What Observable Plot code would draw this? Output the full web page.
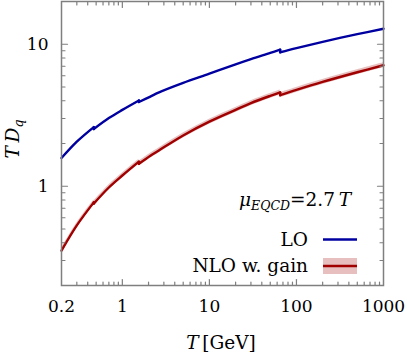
<!DOCTYPE html>
<html><head><meta charset="utf-8">
<script src="https://cdn.jsdelivr.net/npm/d3@7"></script>
<script src="https://cdn.jsdelivr.net/npm/@observablehq/plot@0.6"></script>
<style>body{margin:0;background:#fff}</style>
</head><body><div id="chart"></div>
<script>
// ---- data (T in GeV; repeated T = flavour threshold jump)
const T_GeV  = [0.2, 0.3, 0.47, 0.47, 0.7, 1, 1.55, 1.55, 2.1, 2.6, 5, 10, 20, 30, 50, 65, 65, 100, 200, 500, 1000];
const LO     = [1.58, 2.06, 2.61, 2.53, 3.02, 3.45, 4.02, 3.92, 4.28, 4.56, 5.34, 6.2, 7.22, 7.86, 8.68, 9.15, 8.78, 9.40, 10.40, 11.78, 12.85];
const NLO    = [0.352, 0.53, 0.77, 0.755, 0.98, 1.19, 1.49, 1.44, 1.64, 1.78, 2.28, 2.85, 3.45, 3.85, 4.33, 4.58, 4.38, 4.77, 5.43, 6.35, 7.11];
const NLO_lo = [0.338, 0.509, 0.739, 0.725, 0.941, 1.142, 1.43, 1.382, 1.574, 1.709, 2.189, 2.736, 3.312, 3.696, 4.157, 4.397, 4.205, 4.579, 5.213, 6.096, 6.826];
const NLO_hi = [0.366, 0.551, 0.801, 0.785, 1.019, 1.238, 1.55, 1.498, 1.706, 1.851, 2.371, 2.964, 3.588, 4.004, 4.503, 4.763, 4.555, 4.961, 5.647, 6.604, 7.394];

const xTickLabels = [0.2, 1, 10, 100, 1000];
const yTickLabels = [1, 10];
const xMajor = [1, 10, 100];
const xMinor = [0.3,0.4,0.5,0.6,0.7,0.8,0.9, 2,3,4,5,6,7,8,9, 20,30,40,50,60,70,80,90, 200,300,400,500,600,700,800,900];
const yMajor = [1, 10];
const yMinor = [0.3,0.4,0.5,0.6,0.7,0.8,0.9, 2,3,4,5,6,7,8,9];
const xDomain = [0.2, 1000];
const yDomain = [0.2, 20];

const BLUE = "#0000a0", RED = "#a00000", GRAY = "#7f7f7f";
const FONT = "'DejaVu Serif', 'Liberation Serif', serif";
const FS_TICK = 17, FS = 18.5, FS_SUB = 12.5;

// build table with segment ids (a new segment starts at each threshold)
const rows = [];
let seg = 0;
T_GeV.forEach((t, i) => {
  if (i > 0 && t === T_GeV[i - 1]) seg++;
  rows.push({T: t, LO: LO[i], NLO: NLO[i], lo: NLO_lo[i], hi: NLO_hi[i], seg});
});
const jumps = T_GeV.map((t, i) => (i > 0 && t === T_GeV[i - 1]) ? i : -1).filter(i => i > 0)
  .map(i => ({T: T_GeV[i], LO0: LO[i - 1], LO1: LO[i], N0: NLO[i - 1], N1: NLO[i]}));

const tickShape = {draw(ctx, l) { ctx.moveTo(0, 0); ctx.lineTo(0, -l); }};
const tk = (data, opts) => Plot.vector(data, {shape: tickShape, anchor: "start", stroke: GRAY, strokeWidth: 1.2, ...opts});

const plot = Plot.plot({
  width: 407, height: 354,
  marginLeft: 61, marginRight: 24, marginTop: 1, marginBottom: 69,
  style: {fontFamily: FONT, background: "#fff"},
  x: {type: "log", domain: xDomain},
  y: {type: "log", domain: yDomain},
  marks: [
    Plot.areaY(rows, {x: "T", y1: "lo", y2: "hi", z: "seg", fill: RED, fillOpacity: 0.25, curve: "catmull-rom"}),
    Plot.line(rows, {x: "T", y: "NLO", z: "seg", stroke: RED, strokeWidth: 2.4, curve: "catmull-rom"}),
    Plot.link(jumps, {x1: "T", x2: "T", y1: "N0", y2: "N1", stroke: RED, strokeWidth: 2.4, strokeLinecap: "round"}),
    Plot.line(rows, {x: "T", y: "LO", z: "seg", stroke: BLUE, strokeWidth: 2.4, curve: "catmull-rom"}),
    Plot.link(jumps, {x1: "T", x2: "T", y1: "LO0", y2: "LO1", stroke: BLUE, strokeWidth: 2.4, strokeLinecap: "round"}),
    // inward ticks on all four sides
    tk(xMajor, {x: d => d, frameAnchor: "bottom", rotate: 0, length: 6}),
    tk(xMinor, {x: d => d, frameAnchor: "bottom", rotate: 0, length: 3.5}),
    tk(xMajor, {x: d => d, frameAnchor: "top", rotate: 180, length: 6}),
    tk(xMinor, {x: d => d, frameAnchor: "top", rotate: 180, length: 3.5}),
    tk(yMajor, {y: d => d, frameAnchor: "left", rotate: 90, length: 6}),
    tk(yMinor, {y: d => d, frameAnchor: "left", rotate: 90, length: 3.5}),
    tk(yMajor, {y: d => d, frameAnchor: "right", rotate: -90, length: 6}),
    tk(yMinor, {y: d => d, frameAnchor: "right", rotate: -90, length: 3.5}),
    Plot.frame({stroke: GRAY, strokeWidth: 1.5}),
    Plot.axisX({ticks: xTickLabels, tickSize: 0, tickPadding: 14, tickFormat: d => String(d), label: null, fontSize: FS_TICK, fontFamily: FONT}),
    Plot.axisY({ticks: yTickLabels, tickSize: 0, tickPadding: 13, tickFormat: d => String(d), label: null, fontSize: FS_TICK, fontFamily: FONT})
  ]
});

document.getElementById("chart").appendChild(plot);

// ---- rich-text labels and legend
const svg = d3.select(plot);
const g = svg.append("g").attr("font-family", FONT).attr("font-size", FS).attr("fill", "#000");

// y label: T D_q
const yl = g.append("text").attr("transform", "translate(19,139) rotate(-90)").attr("text-anchor", "middle");
yl.append("tspan").attr("font-style", "italic").text("T\u2009D");
yl.append("tspan").attr("font-style", "italic").attr("font-size", FS_SUB).attr("dy", 4).text("q");

// x label: T [GeV]
const xl = g.append("text").attr("x", 221).attr("y", 349).attr("text-anchor", "middle");
xl.append("tspan").attr("font-style", "italic").text("T");
xl.append("tspan").text("\u2009[GeV]");

// mu_EQCD = 2.7 T
const mu = g.append("text").attr("x", 351).attr("y", 206).attr("text-anchor", "end");
mu.append("tspan").attr("font-style", "italic").text("μ");
mu.append("tspan").attr("font-style", "italic").attr("font-size", FS_SUB).attr("dy", 4).text("EQCD");
mu.append("tspan").attr("dy", -4).text("=2.7\u2009");
mu.append("tspan").attr("font-style", "italic").text("T");

// legend entries
g.append("text").attr("x", 308).attr("y", 246).attr("text-anchor", "end").text("LO");
g.append("line").attr("x1", 323).attr("x2", 357).attr("y1", 239.5).attr("y2", 239.5).attr("stroke", BLUE).attr("stroke-width", 2.4);
g.append("text").attr("x", 308).attr("y", 272).attr("text-anchor", "end").text("NLO w. gain");
g.append("rect").attr("x", 323).attr("y", 258).attr("width", 34).attr("height", 16).attr("fill", RED).attr("fill-opacity", 0.25);
g.append("line").attr("x1", 323).attr("x2", 357).attr("y1", 266).attr("y2", 266).attr("stroke", RED).attr("stroke-width", 2.4);
</script>
</body></html>
